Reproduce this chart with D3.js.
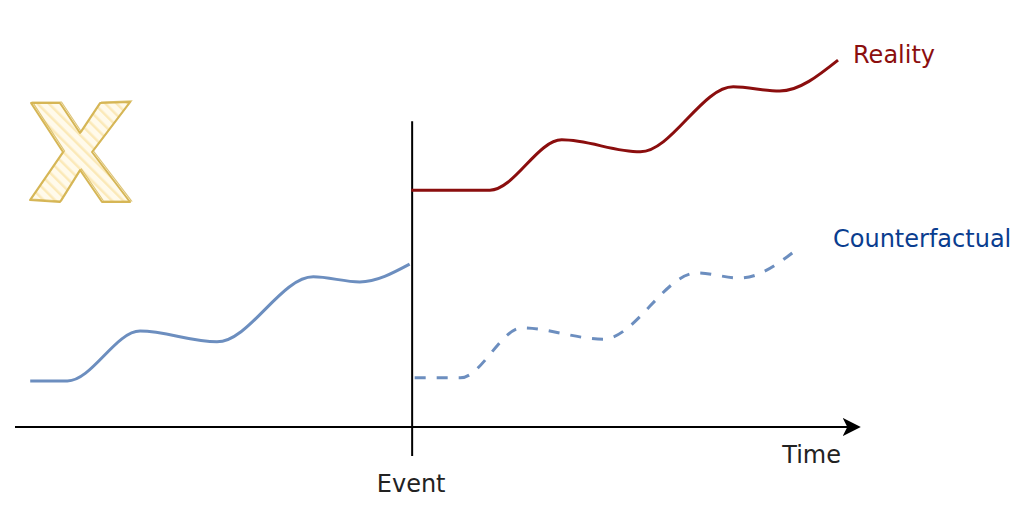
<!DOCTYPE html>
<html>
<head>
<meta charset="utf-8">
<script src="https://cdn.jsdelivr.net/npm/d3@7"></script>
<style>
  body { margin: 0; background: #fff; }
  text { font-family: "DejaVu Sans", Verdana, sans-serif; }
</style>
</head>
<body>
<div id="chart"></div>
<script>
// Values (time 0..100, value 0..100)
const eventTime = 47
const beforeTime  = [1.8, 6.2, 14.8, 23.9, 35.3, 40.8, 46.7]
const beforeValue = [11.9, 11.9, 24.8, 22.0, 38.8, 37.5, 42.1]
const realityTime  = [46.9, 56.2, 64.7, 74.0, 85.0, 90.5, 97.4]
const realityValue = [61.2, 61.2, 74.2, 71.1, 87.9, 86.8, 94.8]
const counterTime  = [47.3, 52.7, 60.0, 69.6, 80.7, 85.8, 92.9]
const counterValue = [12.7, 12.7, 25.6, 22.7, 39.8, 38.5, 46.5]
const labels = {reality: "Reality", counter: "Counterfactual", time: "Time", event: "Event"}

function drawChart(container) {

    const WIDTH = 1024
    const HEIGHT = 518

    const svg = d3.select(container).append("svg")
        .attr("width", WIDTH)
        .attr("height", HEIGHT)

    // scales: time runs along the arrow, value up from the time axis
    const xScale = d3.scaleLinear().domain([0, 100]).range([15, 860])
    const yScale = d3.scaleLinear().domain([0, 100]).range([427, 40])

    const zip = (ts, vs) => ts.map((t, i) => ({t: t, v: vs[i]}))

    const line = d3.line()
        .x(d => xScale(d.t))
        .y(d => yScale(d.v))
        .curve(d3.curveMonotoneX)

    // arrow head for the time axis
    svg.append("defs").append("marker")
        .attr("id", "arrow")
        .attr("viewBox", "0 0 10 10")
        .attr("refX", 9).attr("refY", 5)
        .attr("markerWidth", 9).attr("markerHeight", 9)
        .attr("markerUnits", "strokeWidth")
        .attr("orient", "auto")
      .append("path")
        .attr("d", "M0,0 L10,5 L0,10 L2.5,5 Z")
        .attr("fill", "#000")

    // time axis
    svg.append("line")
        .attr("x1", xScale(0)).attr("x2", xScale(100) - 1)
        .attr("y1", yScale(0)).attr("y2", yScale(0))
        .attr("stroke", "#000").attr("stroke-width", 2)
        .attr("marker-end", "url(#arrow)")

    // event line
    svg.append("line")
        .attr("x1", xScale(eventTime)).attr("x2", xScale(eventTime))
        .attr("y1", yScale(79)).attr("y2", yScale(-7.5))
        .attr("stroke", "#000").attr("stroke-width", 2)

    // series
    svg.append("path").datum(zip(beforeTime, beforeValue))
        .attr("d", line)
        .attr("fill", "none").attr("stroke", "#6c8ebf").attr("stroke-width", 3)

    svg.append("path").datum(zip(counterTime, counterValue))
        .attr("d", line)
        .attr("fill", "none").attr("stroke", "#6c8ebf").attr("stroke-width", 3)
        .attr("stroke-dasharray", "11 11")

    svg.append("path").datum(zip(realityTime, realityValue))
        .attr("d", line)
        .attr("fill", "none").attr("stroke", "#8b0e0e").attr("stroke-width", 3)

    // labels
    svg.append("text").text(labels.reality)
        .attr("x", xScale(realityTime[6]) + 15).attr("y", yScale(realityValue[6]) + 3)
        .attr("font-size", 24).attr("fill", "#8b0e0e")

    svg.append("text").text(labels.counter)
        .attr("x", xScale(counterTime[6]) + 33).attr("y", yScale(counterValue[6]) + 0)
        .attr("font-size", 24).attr("fill", "#0a3d8f")

    svg.append("text").text(labels.time)
        .attr("x", xScale(100) - 19).attr("y", yScale(0) + 36)
        .attr("text-anchor", "end")
        .attr("font-size", 24).attr("fill", "#222")

    svg.append("text").text(labels.event)
        .attr("x", xScale(eventTime) - 1).attr("y", yScale(0) + 65)
        .attr("text-anchor", "middle")
        .attr("font-size", 24).attr("fill", "#222")

    // sketchy "X" icon
    const cross = [[31,103],[60,103],[80,133],[100,103],[130,102],[92,152],
                   [130,202],[102,202],[80,170],[60,202],[30,200],[63,152]]

    const pattern = svg.select("defs").append("pattern")
        .attr("id", "hatch")
        .attr("patternUnits", "userSpaceOnUse")
        .attr("width", 8).attr("height", 8)
        .attr("patternTransform", "rotate(-45)")
    pattern.append("rect")
        .attr("width", 8).attr("height", 8).attr("fill", "#fffaeb")
    pattern.append("line")
        .attr("x1", 0).attr("x2", 0).attr("y1", 0).attr("y2", 8)
        .attr("stroke", "#fbe9b8").attr("stroke-width", 5)

    const poly = d3.line().curve(d3.curveLinearClosed)
    svg.append("path")
        .attr("d", poly(cross))
        .attr("fill", "url(#hatch)").attr("stroke", "none")
    svg.append("path")
        .attr("d", poly(cross))
        .attr("fill", "none").attr("stroke", "#d6b656").attr("stroke-width", 2)
        .attr("stroke-linejoin", "round")
    svg.append("path")
        .attr("d", poly(cross.map(p => [p[0] + 1.5, p[1] - 1])))
        .attr("fill", "none").attr("stroke", "#d6b656").attr("stroke-width", 1.2)
        .attr("stroke-opacity", 0.8)
}

drawChart("#chart")
</script>
</body>
</html>
